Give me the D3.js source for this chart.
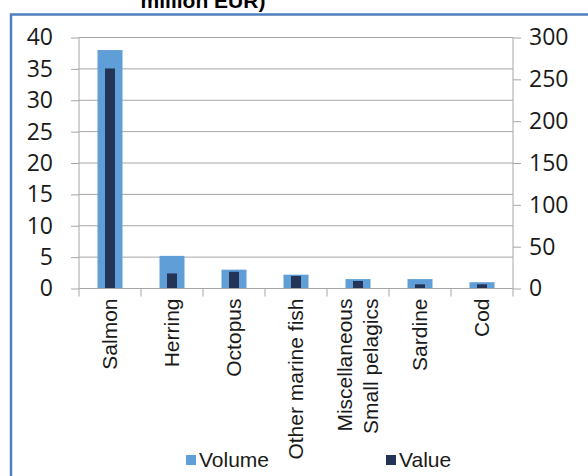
<html>
<head>
    <script src="https://cdn.jsdelivr.net/npm/d3@7"></script>
    <style>
        body { margin: 0; background: #ffffff; }
        svg { display: block; }
    </style>
</head>
<body>
    <svg id="Chart"></svg>
</body>
<script>
    // data
    let categories = ["Salmon", "Herring", "Octopus", "Other marine fish", "Miscellaneous\nSmall pelagics", "Sardine", "Cod"];
    let volume = [38, 5.2, 3.0, 2.2, 1.5, 1.5, 1.0];      // left axis
    let value = [263, 18, 20, 15, 9, 5, 5];              // right axis
    let leftTicks = [0, 5, 10, 15, 20, 25, 30, 35, 40];
    let rightTicks = [0, 50, 100, 150, 200, 250, 300];
    let seriesNames = ["Volume", "Value"];

    let width = 588, height = 476;
    let margin = { top: 37.5, left: 79, right: 75, bottom: 187.5 };
    let colors = { volume: "#5f9ed6", value: "#243457", grid: "#a6a6a6", frame: "#4f7fbc" };
    let numFont = "'Open Sans', sans-serif";
    let textFont = "'Liberation Sans', Arial, sans-serif";

    let svg = d3.select("#Chart").attr("width", width).attr("height", height);

    // outer frame (only left and top show)
    svg.append("path")
        .attr("d", `M11,${height + 5} L11,14.5 L${width + 5},14.5`)
        .attr("fill", "none")
        .attr("stroke", colors.frame)
        .attr("stroke-width", 2.5);

    // title, cut off at the top
    svg.append("text")
        .attr("x", 203).attr("y", 8)
        .attr("text-anchor", "middle")
        .style("font-family", textFont)
        .style("font-weight", "bold")
        .style("font-size", "21px")
        .text("million EUR)");

    let x0 = margin.left, x1 = width - margin.right;
    let y0 = height - margin.bottom, y1 = margin.top;

    let xScale = d3.scaleBand().domain(categories).range([x0, x1]);
    let yLeft = d3.scaleLinear().domain([0, 40]).range([y0, y1]);
    let yRight = d3.scaleLinear().domain([0, 300]).range([y0, y1]);

    // gridlines
    svg.append("g").selectAll("line")
        .data(leftTicks.slice(1))
        .enter().append("line")
        .attr("x1", x0).attr("x2", x1)
        .attr("y1", d => yLeft(d)).attr("y2", d => yLeft(d))
        .attr("stroke", colors.grid).attr("stroke-width", 1);

    // bars
    let volW = 25, valW = 10;
    svg.append("g").selectAll("rect")
        .data(volume)
        .enter().append("rect")
        .attr("x", (d, i) => xScale(categories[i]) + xScale.bandwidth() / 2 - volW / 2)
        .attr("y", d => yLeft(d))
        .attr("width", volW)
        .attr("height", d => y0 - yLeft(d))
        .attr("fill", colors.volume);

    svg.append("g").selectAll("rect")
        .data(value)
        .enter().append("rect")
        .attr("x", (d, i) => xScale(categories[i]) + xScale.bandwidth() / 2 - valW / 2)
        .attr("y", d => yRight(d))
        .attr("width", valW)
        .attr("height", d => y0 - yRight(d))
        .attr("fill", colors.value);

    // axes
    function styleAxis(g) {
        g.selectAll("path, line").attr("stroke", colors.grid);
        g.selectAll("text")
            .style("font-family", numFont)
            .style("font-size", "23px")
            .attr("fill", "#1a1a1a");
    }

    svg.append("g")
        .attr("transform", `translate(${x0},0)`)
        .call(d3.axisLeft(yLeft).tickValues(leftTicks).tickSize(8).tickSizeOuter(0).tickPadding(18))
        .call(styleAxis)
        .call(g => g.select(".domain").attr("d", `M0,${y1}V${y0}`));

    svg.append("g")
        .attr("transform", `translate(${x1},0)`)
        .call(d3.axisRight(yRight).tickValues(rightTicks).tickSize(8).tickSizeOuter(0).tickPadding(8))
        .call(styleAxis)
        .call(g => g.select(".domain").attr("d", `M0,${y1}V${y0}`));

    // category axis: ticks sit on band edges
    let bottom = svg.append("g").attr("transform", `translate(0,${y0})`);
    bottom.append("line")
        .attr("x1", x0).attr("x2", x1)
        .attr("stroke", colors.grid);
    bottom.selectAll(".tick")
        .data(d3.range(categories.length + 1))
        .enter().append("line")
        .attr("x1", i => x0 + i * xScale.step()).attr("x2", i => x0 + i * xScale.step())
        .attr("y1", 0).attr("y2", 8)
        .attr("stroke", colors.grid);

    let labels = bottom.selectAll(".cat")
        .data(categories)
        .enter().append("text")
        .attr("transform", d => `translate(${xScale(d) + xScale.bandwidth() / 2},10) rotate(-90)`)
        .attr("text-anchor", "end")
        .style("font-family", textFont)
        .style("font-size", "21px")
        .attr("fill", "#1a1a1a");

    labels.each(function (d) {
        let lines = d.split("\n");
        let el = d3.select(this);
        lines.forEach((line, i) => {
            el.append("tspan")
                .attr("x", 0)
                .attr("y", (i - (lines.length - 1) / 2) * 26 + 7)
                .text(line);
        });
    });

    // legend
    let legend = svg.append("g");
    let legendX = [186, 386];
    let legendColors = [colors.volume, colors.value];
    legend.selectAll("rect")
        .data(seriesNames)
        .enter().append("rect")
        .attr("x", (d, i) => legendX[i]).attr("y", 455)
        .attr("width", 10).attr("height", 10)
        .attr("fill", (d, i) => legendColors[i]);
    legend.selectAll("text")
        .data(seriesNames)
        .enter().append("text")
        .attr("x", (d, i) => legendX[i] + 13).attr("y", 467)
        .style("font-family", textFont)
        .style("font-size", "21px")
        .attr("fill", "#1a1a1a")
        .text(d => d);
</script>
</html>
